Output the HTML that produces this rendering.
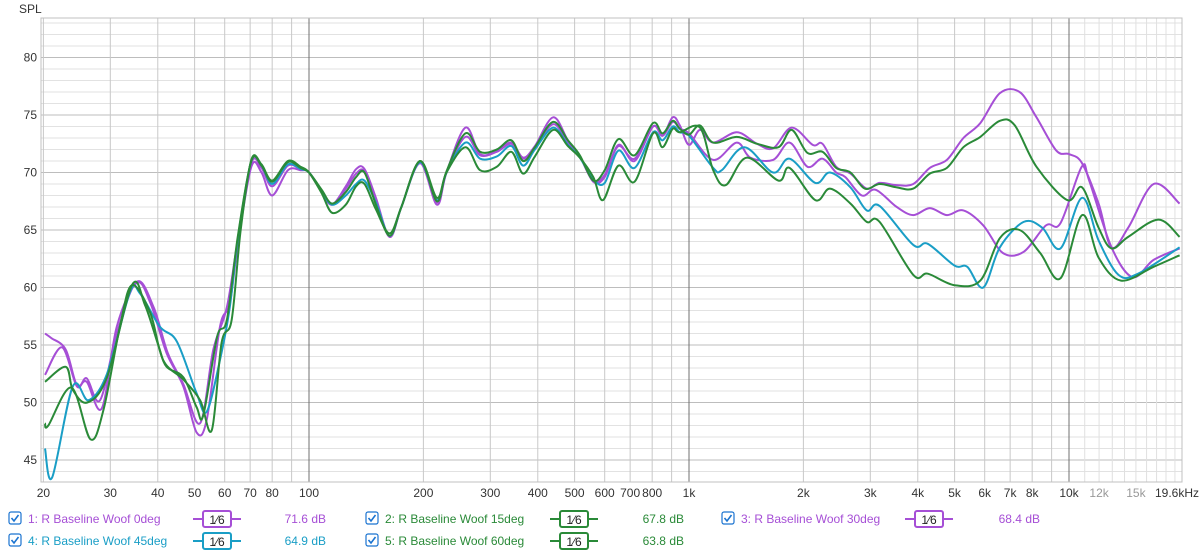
<!DOCTYPE html>
<html><head><meta charset="utf-8">
<style>
html,body{margin:0;padding:0;background:#fff;}
svg{display:block;font-family:"Liberation Sans",sans-serif;}
</style></head>
<body>
<svg id="chart" width="1200" height="552" viewBox="0 0 1200 552" xmlns="http://www.w3.org/2000/svg">
<rect x="0" y="0" width="1200" height="552" fill="#ffffff"/>
<g id="grid"></g>
<g id="axes"></g>
<g id="series"></g>
<g id="legend"></g>
</svg>
<script>
// ---- data ----
const yTicks = [45,50,55,60,65,70,75,80];
const xTickFreqs = [20,30,40,50,60,70,80,100,200,300,400,500,600,700,800,1000,2000,3000,4000,5000,6000,7000,8000,10000,12000,15000,19600];
const xTickLabels = ["20","30","40","50","60","70","80","100","200","300","400","500","600","700","800","1k","2k","3k","4k","5k","6k","7k","8k","10k","12k","15k","19.6kHz"];
const seriesNames = ["1: R Baseline Woof 0deg","2: R Baseline Woof 15deg","3: R Baseline Woof 30deg","4: R Baseline Woof 45deg","5: R Baseline Woof 60deg"];
const seriesLevels = ["71.6 dB","67.8 dB","68.4 dB","64.9 dB","63.8 dB"];

const s0deg = [[20.2,56.0],[21,55.6],[22.9,54.6],[24.5,51.5],[26,51.8],[28.5,49.5],[31.2,56.6],[35.2,60.4],[38.3,58.6],[42.2,54.3],[46.7,51.4],[50.6,47.4],[53.8,48.5],[58.3,56.6],[61.9,58.6],[65,63.8],[70.5,70.5],[75,70.0],[80,68.0],[88,70.2],[95,70.2],[100,70.0],[108,68.3],[115,67.2],[125,68.8],[133,70.3],[140,70.3],[150,67.8],[163,64.4],[175,67.0],[196,70.8],[217,67.2],[230,70.0],[258,73.9],[282,71.6],[312,71.9],[341,72.6],[366,71.3],[393,72.3],[439,74.8],[480,72.8],[516,71.4],[560,69.2],[600,69.6],[652,72.4],[719,71.0],[804,74.0],[852,73.2],[906,74.8],[946,74.1],[1000,72.4],[1069,73.7],[1158,72.6],[1335,73.5],[1511,72.5],[1665,72.1],[1863,73.9],[2116,72.4],[2245,72.5],[2440,70.5],[2661,69.9],[2936,68.6],[3174,69.1],[3522,68.9],[3892,69.0],[4302,70.4],[4773,71.1],[5275,73.0],[5844,74.3],[6579,76.9],[7413,77.0],[8210,74.8],[9262,71.9],[10011,71.6],[10823,70.8],[11961,67.3],[12937,63.5],[14318,65.2],[16701,69.0],[19550,67.3]];
const s15deg = [[20.2,51.8],[22.9,53.1],[23.9,51.1],[26.1,50.0],[29.4,52.2],[34.2,60.2],[37,58.5],[40.2,54.9],[42.2,53.1],[46.7,52.2],[50.6,49.6],[52.7,48.9],[57.3,55.7],[60.8,57.2],[65,64.5],[70.5,71.0],[75,70.6],[80,69.2],[88,70.9],[95,70.4],[100,70.0],[108,68.5],[115,67.3],[125,68.3],[133,69.6],[140,70.0],[150,67.2],[163,64.5],[175,67.0],[196,71.0],[217,67.5],[230,70.1],[258,73.4],[282,71.8],[312,72.0],[341,72.8],[366,71.0],[393,72.2],[439,74.4],[480,72.8],[516,71.5],[560,69.3],[600,70.2],[652,72.9],[719,71.5],[804,74.3],[852,73.4],[906,74.5],[946,73.8],[1000,73.3],[1069,74.1],[1158,72.6],[1335,73.1],[1511,72.5],[1720,72.2],[1863,73.7],[2050,71.7],[2245,71.8],[2440,70.4],[2661,70.0],[2900,68.6],[3174,69.0],[3522,68.7],[3892,68.6],[4302,69.9],[4773,70.4],[5275,72.2],[5844,73.1],[6579,74.5],[7200,74.1],[8210,70.5],[9900,67.6],[10823,68.7],[11961,65.2],[12937,63.4],[14318,64.4],[17200,65.9],[19550,64.4]];
const s30deg = [[20.2,52.4],[22.4,54.8],[24.5,51.4],[26,52.1],[28.2,50.2],[31.2,56.0],[35.2,60.5],[39,58.3],[42.5,54.3],[46.7,51.6],[51.7,48.2],[56,54.6],[60.8,58.3],[65,64.2],[70.5,70.8],[75,70.4],[80,68.8],[88,70.6],[95,70.3],[100,70.0],[108,68.4],[115,67.2],[125,68.6],[133,69.9],[140,70.1],[150,67.6],[163,64.4],[175,67.0],[196,70.9],[217,67.4],[230,70.0],[258,73.1],[282,71.5],[312,71.8],[341,72.5],[366,71.2],[393,72.2],[439,74.2],[480,72.6],[516,71.4],[560,69.3],[600,69.8],[652,72.3],[719,71.2],[804,74.0],[852,73.2],[906,74.4],[946,73.8],[1000,73.4],[1158,71.1],[1335,72.6],[1450,71.3],[1665,71.1],[1840,72.6],[2050,70.5],[2245,71.2],[2440,70.0],[2580,69.6],[2850,68.0],[3100,68.5],[3522,67.0],[3892,66.3],[4302,66.9],[4773,66.3],[5275,66.7],[5950,65.4],[6700,63.0],[7600,63.1],[8700,65.4],[9500,65.6],[10800,70.5],[11300,69.3],[12937,63.5],[14700,60.9],[16701,62.4],[19550,63.4]];
const s45deg = [[20.2,46.0],[21.1,43.5],[23.9,51.4],[26.3,50.2],[29.4,52.5],[33.8,59.6],[35.9,59.5],[40.5,56.6],[44.9,55.3],[50.6,50.8],[53.8,49.2],[58.3,53.7],[61.9,58.3],[65,64.3],[70.5,71.0],[75,70.6],[80,69.0],[88,70.7],[95,70.3],[100,70.0],[108,68.4],[115,67.2],[125,68.0],[133,69.0],[140,69.3],[150,67.4],[163,64.5],[175,67.0],[196,70.9],[217,67.6],[230,70.0],[258,72.6],[282,71.2],[312,71.4],[341,72.3],[366,70.6],[393,72.0],[439,73.9],[480,72.4],[516,71.3],[560,69.4],[600,69.1],[652,71.9],[719,70.4],[804,73.5],[852,72.8],[906,74.0],[946,73.5],[1000,73.2],[1158,70.4],[1220,70.2],[1400,72.2],[1665,70.0],[1840,71.2],[2150,69.1],[2350,70.0],[2661,68.7],[2936,66.7],[3174,67.1],[3892,63.7],[4250,63.8],[5000,61.9],[5400,61.8],[5950,60.0],[6579,63.5],[7600,65.7],[8500,65.2],[9500,63.4],[10823,67.8],[11961,64.1],[13500,61.1],[15200,61.2],[19550,63.5]];
const s60deg = [[20.2,48.2],[20.6,48.0],[23.7,51.3],[26.6,46.8],[28.8,49.4],[31.8,56.6],[34.2,60.2],[38.2,57.8],[41.3,53.7],[46.7,52.0],[51.7,50.2],[55.5,47.6],[58.9,55.2],[62.6,57.2],[66,64.8],[70.5,71.1],[75,70.7],[80,69.3],[88,71.0],[95,70.5],[100,70.0],[108,68.2],[115,66.5],[125,67.2],[133,68.8],[140,69.0],[150,66.8],[163,64.7],[175,67.0],[196,71.0],[217,67.8],[230,70.0],[258,72.2],[282,70.2],[312,70.5],[341,71.8],[366,69.9],[393,71.4],[439,73.7],[480,72.3],[516,71.3],[560,69.6],[594,67.6],[652,70.6],[719,69.2],[804,73.4],[852,72.2],[906,73.8],[946,73.5],[1069,73.9],[1158,70.2],[1250,68.9],[1420,71.3],[1720,69.3],[1840,70.4],[2150,67.6],[2350,68.6],[2661,67.3],[2936,65.7],[3174,65.7],[3892,61.1],[4250,61.2],[5000,60.2],[5844,60.6],[6579,64.3],[7413,65.0],[8400,63.0],[9500,60.8],[10823,66.3],[11961,62.6],[13700,60.6],[16701,61.8],[19550,62.8]];

const seriesData = [s0deg, s15deg, s30deg, s45deg, s60deg];
const seriesColors = ["#a64fd6","#2a8a38","#a64fd6","#1a9ec6","#2a8a38"];

// ---- axes ----
const PL=41, PR=1182, PT=18, PB=482;
function xScale(f){ return 309 + 380*Math.log10(f/100); }
function yScale(db){ return 57.5 + (80-db)*11.5; }

const NS="http://www.w3.org/2000/svg";
function mk(tag, attrs, parent){
  const e=document.createElementNS(NS,tag);
  for(const k in attrs) e.setAttribute(k,attrs[k]);
  parent.appendChild(e); return e;
}
const grid=document.getElementById('grid');
const axes=document.getElementById('axes');

for(let d=44; d<=83; d++){
  const y=yScale(d);
  const major = d%5===0;
  const l=mk('line',{x1:PL,x2:PR,y1:y,y2:y,stroke:major?'#bdbdbd':'#e2e2e2','stroke-width':1},grid);
  
  
}
const vfreqs=[];
for(let dec=10; dec<=10000; dec*=10){ for(let m=1;m<=9;m++){ const f=m*dec; if(f>=20 && f<=19600) vfreqs.push(f);} }
for(let f=11000; f<=19000; f+=1000) vfreqs.push(f);
vfreqs.forEach(f=>{
  const x=xScale(f);
  let col='#c8c8c8';
  if(f===100||f===1000||f===10000) col='#707070';
  else if(f>10000) col='#e0e0e0';
  const l=mk('line',{x1:x,x2:x,y1:PT,y2:PB,stroke:col,'stroke-width':1},grid);
  
  
});
const fr=mk('rect',{x:PL,y:PT,width:PR-PL,height:PB-PT,fill:'none',stroke:'#c0c0c0','stroke-width':1},grid);



yTicks.forEach(v=>{
  const t=mk('text',{x:37,y:yScale(v)+4,'text-anchor':'end','font-size':12,fill:'#333'},axes);
  t.textContent=v;
  
  
});
const spl=mk('text',{x:19,y:13,'font-size':12,fill:'#333'},axes);
spl.textContent='SPL';


xTickFreqs.forEach((f,i)=>{
  const last = i===xTickFreqs.length-1;
  const t=mk('text',{x:last?1155:xScale(f),y:497,'text-anchor':last?'start':'middle','font-size':12,fill:(f===12000||f===15000)?'#999':'#333'},axes);
  t.textContent=xTickLabels[i];
  
  
});

// ---- series ----
function pathFrom(pts){
  const p=pts.map(d=>[xScale(d[0]),yScale(d[1])]);
  let s='M'+p[0][0].toFixed(1)+','+p[0][1].toFixed(1);
  for(let i=0;i<p.length-1;i++){
    const p0=p[i-1]||p[i], p1=p[i], p2=p[i+1], p3=p[i+2]||p2;
    const c1=[p1[0]+(p2[0]-p0[0])/6, p1[1]+(p2[1]-p0[1])/6];
    const c2=[p2[0]-(p3[0]-p1[0])/6, p2[1]-(p3[1]-p1[1])/6];
    s+=' C'+c1[0].toFixed(1)+','+c1[1].toFixed(1)+' '+c2[0].toFixed(1)+','+c2[1].toFixed(1)+' '+p2[0].toFixed(1)+','+p2[1].toFixed(1);
  }
  return s;
}
const sg=document.getElementById('series');
const seriesSlugs=['series-0deg','series-15deg','series-30deg','series-45deg','series-60deg'];
[0,2,3,1,4].forEach(i=>{
  const p=mk('path',{d:pathFrom(seriesData[i]),fill:'none',stroke:seriesColors[i],'stroke-width':2,'stroke-linejoin':'round'},sg);
  
  
});

// ---- legend ----
const lg=document.getElementById('legend');
const legPos=[[9,519,193,326],[366,519,550,684],[722,519,905,1040],[9,541,193,326],[366,541,550,684]];
seriesNames.forEach((name,i)=>{
  const [cx,cy,bx,vx]=legPos[i];
  const col=seriesColors[i];
  const g=mk('g',{},lg);
  
  
  const cb=mk('rect',{x:cx,y:cy-7,width:12,height:12,rx:2,fill:'#fff',stroke:'#1a73d0','stroke-width':1.2},g);
  
  
  const ck=mk('path',{d:`M${cx+2.5},${cy-1} L${cx+5},${cy+2} L${cx+9.5},${cy-4}`,fill:'none',stroke:'#1a73d0','stroke-width':1.6},g);
  
  
  const t=mk('text',{x:cx+19,y:cy+4,'font-size':12,fill:col},g);
  t.textContent=name;
  
  
  const ln=mk('line',{x1:bx,x2:bx+48,y1:cy,y2:cy,stroke:col,'stroke-width':2},g);
  
  
  const bx2=mk('rect',{x:bx+10,y:cy-8,width:28,height:16,rx:2,fill:'#fff',stroke:col,'stroke-width':2},g);
  
  
  const st=mk('text',{x:bx+24,y:cy+5,'text-anchor':'middle','font-size':12,fill:'#222'},g);
  st.textContent='1⁄6';
  
  
  const v=mk('text',{x:vx,y:cy+4,'text-anchor':'end','font-size':12,fill:col},g);
  v.textContent=seriesLevels[i];
  
  
});
</script>
</body></html>
